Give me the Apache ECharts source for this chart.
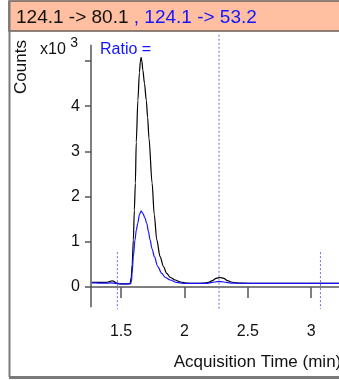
<!DOCTYPE html>
<html>
<head>
<meta charset="utf-8">
<script src="https://cdn.jsdelivr.net/npm/echarts@6/dist/echarts.min.js"></script>
<style>
  html, body { margin: 0; padding: 0; background: #fff; }
  #chart { width: 339px; height: 380px; }
</style>
</head>
<body>
<div id="chart"></div>
<script>
// Acquisition time (min) and counts (x10^3) for the two MRM transitions
const quantTimes = [1.27, 1.30, 1.34, 1.38, 1.40, 1.42, 1.43, 1.44, 1.46, 1.49, 1.52, 1.55, 1.571, 1.58, 1.588, 1.597, 1.605, 1.613, 1.62, 1.633, 1.645, 1.652, 1.658, 1.664, 1.672, 1.685, 1.699, 1.71, 1.72, 1.745, 1.762, 1.782, 1.808, 1.835, 1.86, 1.89, 1.926, 1.97, 2.02, 2.08, 2.15, 2.19, 2.22, 2.25, 2.28, 2.31, 2.34, 2.37, 2.41, 2.46, 2.55, 2.7, 2.9, 3.1, 3.3];
const quantCounts = [0.10, 0.10, 0.10, 0.10, 0.11, 0.13, 0.135, 0.13, 0.09, 0.07, 0.07, 0.07, 0.08, 0.2, 0.5, 1.04, 1.7, 2.3, 3.2, 4.13, 4.75, 4.98, 5.08, 5.0, 4.8, 4.5, 4.13, 3.75, 3.3, 2.3, 1.6, 1.04, 0.67, 0.45, 0.30, 0.21, 0.155, 0.11, 0.085, 0.08, 0.085, 0.10, 0.14, 0.19, 0.21, 0.19, 0.14, 0.11, 0.09, 0.085, 0.08, 0.08, 0.08, 0.08, 0.08];

const qualTimes = [1.27, 1.30, 1.34, 1.38, 1.42, 1.46, 1.50, 1.55, 1.575, 1.582, 1.587, 1.597, 1.610, 1.62, 1.632, 1.645, 1.658, 1.672, 1.688, 1.703, 1.716, 1.729, 1.745, 1.763, 1.79, 1.821, 1.85, 1.887, 1.94, 1.99, 2.05, 2.18, 2.22, 2.26, 2.29, 2.33, 2.38, 2.5, 2.8, 3.1, 3.3];
const qualCounts = [0.09, 0.09, 0.085, 0.085, 0.09, 0.08, 0.07, 0.07, 0.07, 0.12, 0.30, 0.67, 1.04, 1.25, 1.41, 1.6, 1.68, 1.63, 1.53, 1.41, 1.23, 1.04, 0.84, 0.67, 0.45, 0.30, 0.21, 0.155, 0.10, 0.08, 0.08, 0.08, 0.10, 0.12, 0.12, 0.10, 0.085, 0.08, 0.08, 0.08, 0.08];

// Integration markers: time and the height each dotted line reaches
const markerTimes = [1.471, 2.273, 3.073];
const markerTops = [0.77, 5.58, 0.77];

const xTicks = [1.5, 2, 2.5, 3, 3.5];
const yTicks = [0, 1, 2, 3, 4, 5];
const yTickLabels = [0, 1, 2, 3, 4];

const xMin = 1.263, xMax = 3.89;
const yMin = -0.487, yMax = 5.64;

const FONT = '"Liberation Sans", Arial, sans-serif';
const AXIS_COLOR = '#555';
const BLUE = '#1414ff';

const zip = (a, b) => a.map((v, i) => [v, b[i]]);

const markerSeries = markerTimes.map((t, i) => ({
  type: 'line',
  data: [[t, markerTops[i]], [t, yMin]],
  symbol: 'none',
  silent: true,
  lineStyle: { color: '#6a6ad8', width: 1, type: [2, 2] },
  z: 1
}));

const chart = echarts.init(document.getElementById('chart'), null, { renderer: 'canvas' });

chart.setOption({
  animation: false,
  textStyle: { fontFamily: FONT },
  // the plot runs on past the right edge of the panel
  grid: { left: 91, top: 32, width: 333, height: 277, containLabel: false, outerBoundsMode: 'none' },
  xAxis: {
    type: 'value',
    min: xMin,
    max: xMax,
    axisLine: { show: true, lineStyle: { color: AXIS_COLOR, width: 1.5 } },
    axisTick: { show: true, length: 11, customValues: xTicks, lineStyle: { color: AXIS_COLOR, width: 1.5 } },
    axisLabel: { customValues: xTicks, margin: 15, fontSize: 16, color: '#111', fontFamily: FONT },
    splitLine: { show: false },
    name: 'Acquisition Time (min)',
    nameLocation: 'middle',
    nameGap: 45,
    nameTextStyle: { fontSize: 17, color: '#111', fontFamily: FONT }
  },
  yAxis: {
    type: 'value',
    min: yMin,
    max: yMax,
    axisLine: { show: false },
    axisTick: { show: true, length: 6, customValues: yTicks, lineStyle: { color: AXIS_COLOR, width: 1.5 } },
    axisLabel: { customValues: yTickLabels, margin: 11, fontSize: 16, color: '#111', fontFamily: FONT },
    splitLine: { show: false }
  },
  series: [
    ...markerSeries,
    {
      name: '124.1 -> 80.1',
      type: 'line',
      data: zip(quantTimes, quantCounts),
      symbol: 'none',
      smooth: 0.3,
      smoothMonotone: 'x',
      lineStyle: { color: '#000', width: 1.2 },
      z: 3
    },
    {
      name: '124.1 -> 53.2',
      type: 'line',
      data: zip(qualTimes, qualCounts),
      symbol: 'none',
      smooth: 0.3,
      smoothMonotone: 'x',
      lineStyle: { color: BLUE, width: 1.2 },
      z: 4
    }
  ]
});

// Frame, header band and axis annotations; the y-axis line spans the data range
const yLineTop = chart.convertToPixel({ gridIndex: 0 }, [xMin, 5.36]);
const yLineBottom = chart.convertToPixel({ gridIndex: 0 }, [xMin, -0.45]);

chart.setOption({
  graphic: [
    { type: 'rect', shape: { x: 9, y: 1, width: 340, height: 30 }, style: { fill: '#ffbfa0', stroke: '#6b5f58', lineWidth: 1.5 }, z: 0, silent: true },
    { type: 'line', shape: { x1: 9.5, y1: 1, x2: 9.5, y2: 377 }, style: { stroke: '#7a7a7a', lineWidth: 2 }, silent: true },
    { type: 'line', shape: { x1: 9, y1: 377.5, x2: 339, y2: 377.5 }, style: { stroke: '#7a7a7a', lineWidth: 3 }, silent: true },
    {
      type: 'text', left: 16, top: 8, silent: true,
      style: {
        text: '{a|124.1 -> 80.1}{b| , 124.1 -> 53.2}',
        rich: {
          a: { fill: '#111', fontSize: 19, fontFamily: FONT },
          b: { fill: BLUE, fontSize: 19, fontFamily: FONT }
        }
      }
    },
    {
      type: 'text', x: 21, y: 67, rotation: Math.PI / 2, silent: true,
      style: { text: 'Counts', fill: '#111', fontSize: 17, fontFamily: FONT, align: 'center', verticalAlign: 'middle' }
    },
    {
      type: 'text', left: 40, top: 36, silent: true,
      style: {
        text: '{x|x10 }{s|3}',
        rich: {
          x: { fill: '#111', fontSize: 16, fontFamily: FONT, verticalAlign: 'bottom' },
          s: { fill: '#111', fontSize: 14, fontFamily: FONT, verticalAlign: 'top', padding: [0, 0, 8, 0] }
        }
      }
    },
    {
      type: 'text', left: 100, top: 42, silent: true,
      style: { text: 'Ratio =', fill: BLUE, fontSize: 16, fontFamily: FONT }
    },
    {
      type: 'line', silent: true,
      shape: { x1: yLineTop[0], y1: yLineTop[1], x2: yLineBottom[0], y2: yLineBottom[1] },
      style: { stroke: AXIS_COLOR, lineWidth: 1.5 }
    }
  ]
});
</script>
</body>
</html>
